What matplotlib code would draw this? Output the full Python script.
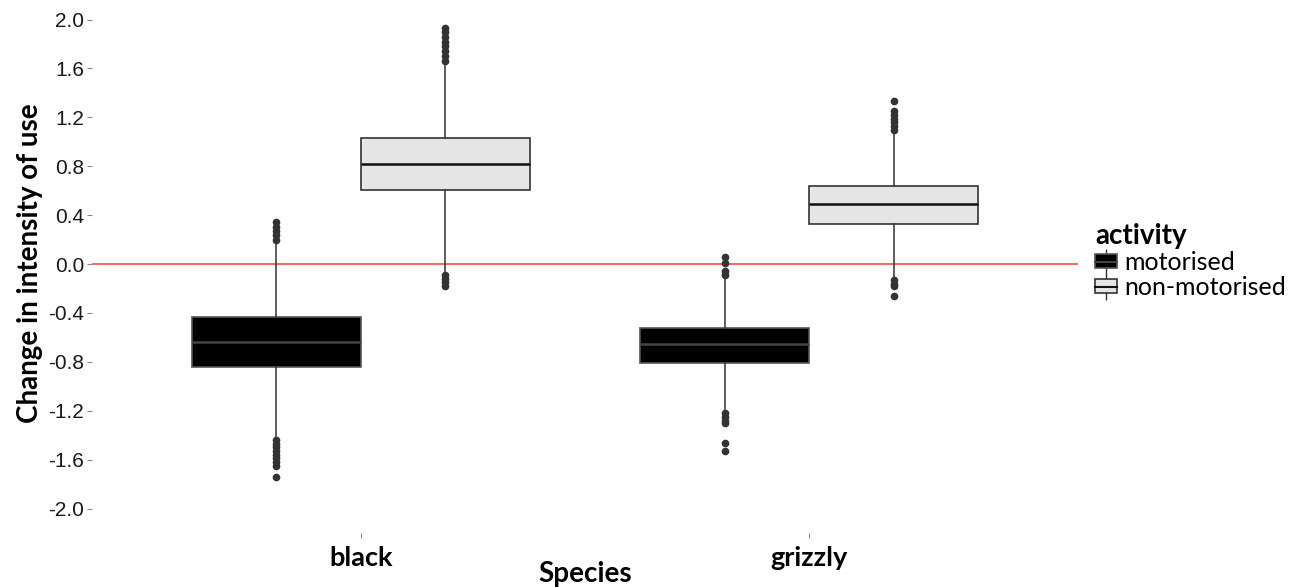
import matplotlib
matplotlib.use("Agg")
import matplotlib.pyplot as plt
from matplotlib.patches import Patch
from matplotlib.lines import Line2D
from matplotlib.legend_handler import HandlerTuple

# categories
species = ['black', 'grizzly']
activity = ['motorised', 'non-motorised']

# box statistics, one value per species
motor_med = [-0.64, -0.655]
motor_q1 = [-0.84, -0.81]
motor_q3 = [-0.435, -0.52]
motor_whislo = [-1.42, -1.21]
motor_whishi = [0.16, -0.10]
motor_fliers = [
    [0.34, 0.30, 0.27, 0.24, 0.20, -1.44, -1.47, -1.50, -1.53, -1.56, -1.59, -1.62, -1.65, -1.74],
    [0.06, 0.01, -0.06, -0.09, -1.22, -1.25, -1.28, -1.30, -1.46, -1.53],
]

nonmotor_med = [0.82, 0.49]
nonmotor_q1 = [0.605, 0.33]
nonmotor_q3 = [1.03, 0.64]
nonmotor_whislo = [-0.07, -0.11]
nonmotor_whishi = [1.64, 1.08]
nonmotor_fliers = [
    [1.66, 1.70, 1.74, 1.78, 1.82, 1.86, 1.90, 1.93, -0.09, -0.12, -0.15, -0.18],
    [1.10, 1.13, 1.16, 1.19, 1.22, 1.25, 1.33, -0.13, -0.16, -0.18, -0.26],
]

y_ticks = [-2.0, -1.6, -1.2, -0.8, -0.4, 0.0, 0.4, 0.8, 1.2, 1.6, 2.0]

W, H = 1303, 587
fig = plt.figure(figsize=(W / 100, H / 100), dpi=100)
ax = fig.add_axes([92 / W, (H - 533) / H, (1078 - 92) / W, 533 / H])

box_w = 0.377
colors = ['black', '#e5e5e5']
edge = ['#555555', '#333333']
med_col = ['#444444', '#111111']


def make_stats(med, q1, q3, lo, hi, fl):
    out = []
    for i in range(len(med)):
        out.append(dict(med=med[i], q1=q1[i], q3=q3[i], whislo=lo[i],
                        whishi=hi[i], fliers=fl[i]))
    return out


groups = [
    make_stats(motor_med, motor_q1, motor_q3, motor_whislo, motor_whishi, motor_fliers),
    make_stats(nonmotor_med, nonmotor_q1, nonmotor_q3, nonmotor_whislo, nonmotor_whishi, nonmotor_fliers),
]

# zero reference line
ax.axhline(0, color='#ff3b3b', lw=1.1, zorder=1)

for k, stats in enumerate(groups):
    offs = -box_w / 2 if k == 0 else box_w / 2
    pos = [i + 1 + offs for i in range(len(species))]
    ax.bxp(stats, positions=pos, widths=box_w, patch_artist=True,
           showcaps=False,
           boxprops=dict(facecolor=colors[k], edgecolor=edge[k], lw=1.2),
           medianprops=dict(color=med_col[k], lw=1.8),
           whiskerprops=dict(color='#333333', lw=1.1),
           flierprops=dict(marker='o', markerfacecolor='#333333',
                           markeredgecolor='#333333', markersize=4.5),
           zorder=2)

ax.set_xlim(0.4, 2.6)
ax.set_ylim(-2.2, 2.16)
ax.set_xticks([1, 2])
ax.set_xticklabels(species, fontsize=19.5, fontweight='bold', family='Lato')
ax.set_yticks(y_ticks)
ax.set_yticklabels([f'{v:.1f}' for v in y_ticks], fontsize=15,
                   family='Liberation Sans', color='#1a1a1a')
ax.tick_params(axis='y', length=3.5, width=0.8, color='#888888', pad=2)
ax.tick_params(axis='x', length=3.5, width=0.8, color='#888888', pad=6)
for s in ax.spines.values():
    s.set_visible(False)

ax.set_ylabel('Change in intensity of use', fontsize=20, fontweight='bold',
              family='Lato')
ax.yaxis.set_label_coords(-0.05, 0.507)
ax.set_xlabel('Species', fontsize=20, fontweight='bold', family='Lato')
ax.xaxis.set_label_coords(0.5, -0.053)

# legend: box glyph = whisker stub + box + median line
handles = []
for k in range(2):
    handles.append((Line2D([], [], color='#333333', marker='|', ls='none',
                           markersize=19, markeredgewidth=1.0),
                    Patch(facecolor=colors[k], edgecolor=edge[k], lw=1.2),
                    Line2D([], [], color=med_col[k], lw=1.5)))
leg = fig.legend(handles, activity, loc='upper left',
                 bbox_to_anchor=(1095 / W, 1 - 223 / H),
                 frameon=False, title='activity', alignment='left',
                 prop=dict(family='Lato', size=18),
                 handler_map={tuple: HandlerTuple(ndivide=1)},
                 handlelength=0.88, handleheight=0.45, handletextpad=0.3,
                 labelspacing=0.08, borderaxespad=0, borderpad=0)
leg.get_title().set_fontweight('bold')
leg.get_title().set_fontsize(20)
leg.get_title().set_family('Lato')

fig.savefig('out.png', dpi=100)
